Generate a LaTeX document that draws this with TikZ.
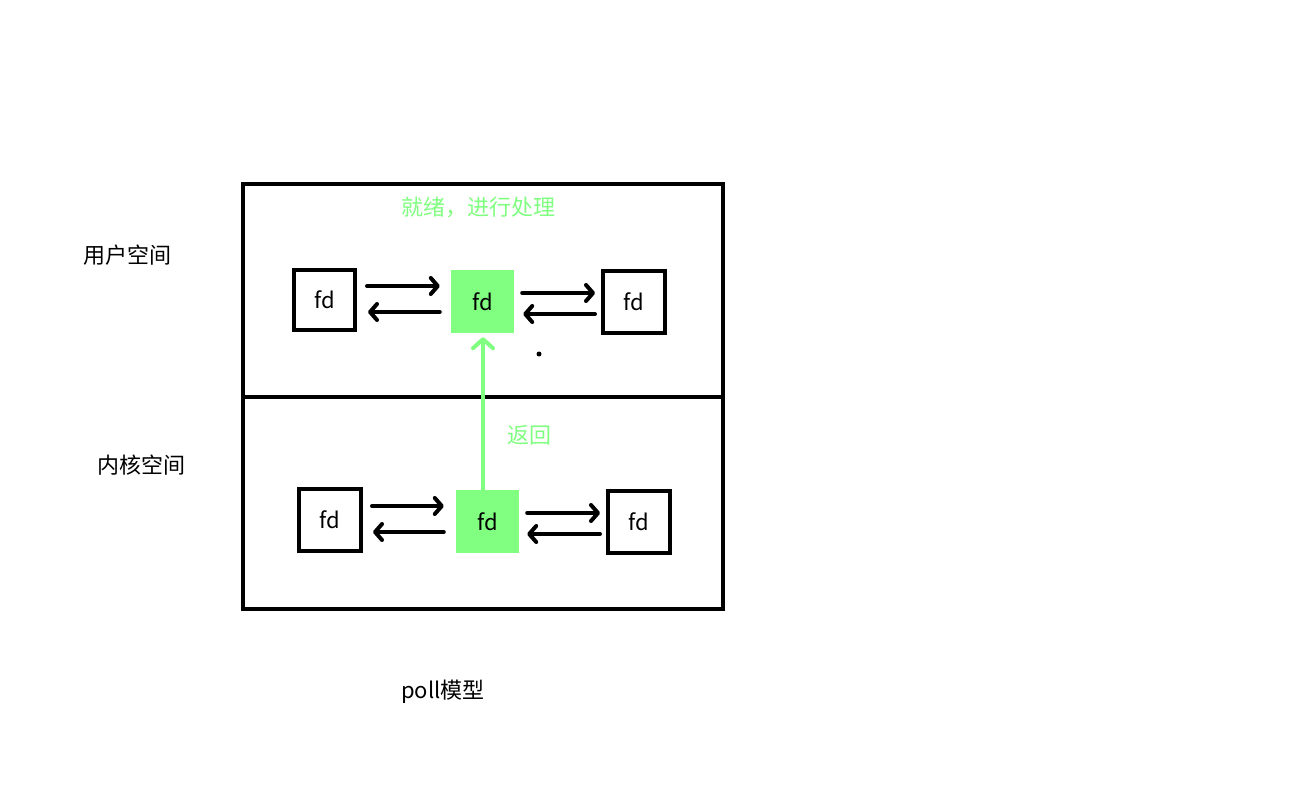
\documentclass[tikz,border=0pt]{standalone}
\usepackage{fontspec}
\setmainfont{Noto Sans CJK SC}
\usetikzlibrary{arrows.meta}
\definecolor{lgreen}{HTML}{80FF80}
\begin{document}
\begin{tikzpicture}[x=1pt,y=-1pt,
  frame/.style={draw=black,line width=4pt,inner sep=0pt,outer sep=0pt},
  fdbox/.style={draw=black,line width=4pt,inner sep=0pt,minimum size=62pt,font=\fontsize{22}{26}\selectfont},
  fdgreen/.style={fill=lgreen,inner sep=0pt,minimum size=63pt,font=\fontsize{22}{26}\selectfont},
  lbl/.style={font=\fontsize{22}{26}\selectfont,inner sep=0pt},
  arr/.style={line width=4pt,line cap=round,-{Straight Barb[length=7pt,width=16pt,line cap=round,line join=round]}},
  garr/.style={draw=lgreen,line width=4pt,-{Straight Barb[length=9pt,width=20pt,line cap=round,line join=round]}}
]
\useasboundingbox (0,0) rectangle (1296,810);
\fill[white] (0,0) rectangle (1296,810);
% frames
\node[frame,minimum width=479.5pt,minimum height=213pt] (user) at (482.75,290.5) {};
\node[frame,minimum width=479.5pt,minimum height=212pt] (kernel) at (482.75,503) {};
% side labels
\node[lbl] (ul) at (127,255) {用户空间};
\node[lbl] (kl) at (141,465) {内核空间};
\node[lbl] (title) at (443,692) {poll模型};
% top row
\node[fdbox,minimum width=61pt,minimum height=60pt] (tl) at (324.5,300) {fd};
\node[fdgreen] (gt) at (482.5,301.5) {fd};
\node[fdbox] (tr) at (634,302) {fd};
% bottom row
\node[fdbox] (bl) at (330,520) {fd};
\node[fdgreen] (gb) at (487.5,521.5) {fd};
\node[fdbox] (br) at (639,522) {fd};
% green labels
\node[lbl,text=lgreen] (ready) at (478,207) {就绪，进行处理};
\node[lbl,text=lgreen] (ret) at (529.5,435) {返回};
% dot
\node[circle,fill=black,inner sep=0pt,minimum size=5pt] (dot) at (539,354) {};
% top arrows
\draw[arr] ([xshift=10pt,yshift=14pt]tl.east) -- ([xshift=-11pt,yshift=15.5pt]gt.west);
\draw[arr] ([xshift=-11pt,yshift=-10.5pt]gt.west) -- ([xshift=11pt,yshift=-12pt]tl.east);
\draw[arr] ([xshift=8pt,yshift=8.5pt]gt.east) -- ([xshift=-6pt,yshift=9pt]tr.west);
\draw[arr] ([xshift=-6pt,yshift=-12pt]tr.west) -- ([xshift=9pt,yshift=-12.5pt]gt.east);
% bottom arrows
\draw[arr] ([xshift=9pt,yshift=14pt]bl.east) -- ([xshift=-12pt,yshift=15.5pt]gb.west);
\draw[arr] ([xshift=-12pt,yshift=-10.5pt]gb.west) -- ([xshift=10pt,yshift=-12pt]bl.east);
\draw[arr] ([xshift=8pt,yshift=8.5pt]gb.east) -- ([xshift=-6pt,yshift=9pt]br.west);
\draw[arr] ([xshift=-6pt,yshift=-12pt]br.west) -- ([xshift=8pt,yshift=-12.5pt]gb.east);
% green return arrow
\draw[garr] ([xshift=-4.5pt]gb.north) -- ([xshift=0.5pt,yshift=-4pt]gt.south);
\end{tikzpicture}
\end{document}
